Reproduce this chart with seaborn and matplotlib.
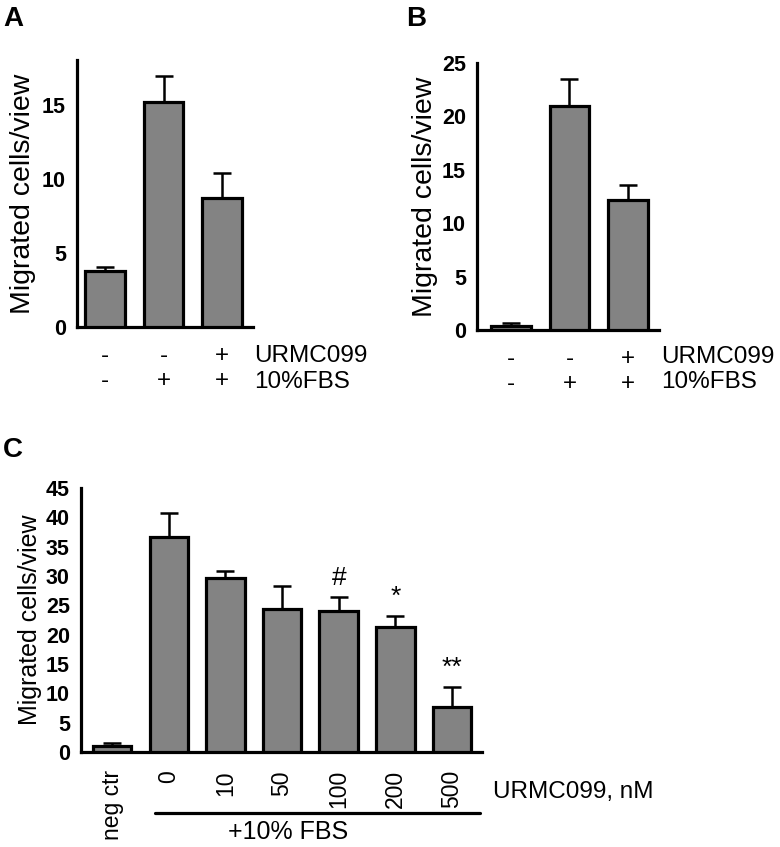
import numpy as np
import pandas as pd
import matplotlib
matplotlib.use("Agg")
import matplotlib.pyplot as plt
import matplotlib.transforms as mtransforms
import seaborn as sns

sns.set_style("white")
plt.rcParams['font.family'] = ['Liberation Sans', 'DejaVu Sans']
plt.rcParams['text.color'] = 'black'
plt.rcParams['axes.labelcolor'] = 'black'
plt.rcParams['xtick.color'] = 'black'
plt.rcParams['ytick.color'] = 'black'

# Panel A
a_groups = ["g1", "g2", "g3"]
a_mean = [3.8, 15.2, 8.7]
a_err = [0.25, 1.7, 1.7]
a_urmc = ["-", "-", "+"]
a_fbs = ["-", "+", "+"]

# Panel B
b_groups = ["g1", "g2", "g3"]
b_mean = [0.38, 21.0, 12.2]
b_err = [0.27, 2.5, 1.4]
b_urmc = ["-", "-", "+"]
b_fbs = ["-", "+", "+"]

# Panel C
c_labels = ["neg ctr", "0", "10", "50", "100", "200", "500"]
c_mean = [1.0, 36.6, 29.6, 24.4, 24.0, 21.3, 7.7]
c_err = [0.6, 4.1, 1.3, 3.9, 2.4, 1.9, 3.4]
c_marks = ["", "", "", "", "#", "*", "**"]

BAR = "#838383"
LW = 2.3


def bars(ax, groups, mean, err, ylim, yticks):
    df = pd.DataFrame({"grp": groups, "val": mean})
    sns.barplot(data=df, x="grp", y="val", color=BAR, saturation=1,
                edgecolor="black", linewidth=LW, width=0.68,
                errorbar=None, ax=ax, zorder=3)
    x = np.arange(len(mean))
    ax.errorbar(x, mean, yerr=[np.zeros(len(err)), err], fmt="none",
                ecolor="black", elinewidth=1.8, capsize=6.5, capthick=1.8,
                zorder=2)
    ax.set_ylim(*ylim)
    ax.set_yticks(yticks)
    ax.set_yticklabels([str(t) for t in yticks], fontweight="bold", fontsize=15.5)
    ax.set_xlabel("")
    sns.despine(ax=ax)
    for s in ["left", "bottom"]:
        ax.spines[s].set_linewidth(LW)
        ax.spines[s].set_color("black")
    ax.tick_params(axis="both", direction="out", length=7, width=LW,
                   color="black", labelcolor="black")
    ax.tick_params(axis="y", pad=1)


fig = plt.figure(figsize=(7.8, 8.47), dpi=100)

# A
axA = fig.add_axes([0.0987, 0.614, 0.2257, 0.315])
bars(axA, a_groups, a_mean, a_err, (0, 18), [0, 5, 10, 15])
axA.set_xlim(-0.48, 2.53)
axA.set_xticks(range(3))
axA.set_xticklabels([f"{u}\n{f}" for u, f in zip(a_urmc, a_fbs)],
                    fontsize=17.5, linespacing=1.15)
axA.tick_params(axis="x", pad=6)
axA.set_ylabel("Migrated cells/view", fontsize=20.5, labelpad=4)
trA = mtransforms.blended_transform_factory(axA.transData, axA.transAxes)
axA.text(2.55, -0.11, "URMC099", transform=trA, fontsize=17.5, va="center", ha="left")
axA.text(2.55, -0.205, "10%FBS", transform=trA, fontsize=17.5, va="center", ha="left")

# B
axB = fig.add_axes([0.6115, 0.6104, 0.2335, 0.3152])
bars(axB, b_groups, b_mean, b_err, (0, 25), [0, 5, 10, 15, 20, 25])
axB.set_xlim(-0.58, 2.53)
axB.set_xticks(range(3))
axB.set_xticklabels([f"{u}\n{f}" for u, f in zip(b_urmc, b_fbs)],
                    fontsize=17.5, linespacing=1.15)
axB.tick_params(axis="x", pad=6)
axB.set_ylabel("Migrated cells/view", fontsize=20.5, labelpad=3)
trB = mtransforms.blended_transform_factory(axB.transData, axB.transAxes)
axB.text(2.57, -0.10, "URMC099", transform=trB, fontsize=17.5, va="center", ha="left")
axB.text(2.57, -0.195, "10%FBS", transform=trB, fontsize=17.5, va="center", ha="left")

# C
axC = fig.add_axes([0.1038, 0.1122, 0.5142, 0.3117])
bars(axC, c_labels, c_mean, c_err, (0, 45), list(range(0, 50, 5)))
axC.set_xlim(-0.55, 6.53)
axC.set_xticks(range(len(c_labels)))
axC.set_xticklabels(c_labels, rotation=90, fontsize=16.5, va="top")
axC.tick_params(axis="x", pad=6)
axC.set_ylabel("Migrated cells/view", fontsize=18, labelpad=3)
for i, m in enumerate(c_marks):
    if m:
        axC.text(i, c_mean[i] + c_err[i] + 1.2, m, ha="center", va="bottom",
                 fontsize=19)
trC = mtransforms.blended_transform_factory(axC.transData, axC.transAxes)
axC.plot([0.76, 6.49], [-0.231, -0.231], color="black", lw=LW,
         transform=trC, clip_on=False)
axC.text(3.1, -0.305, "+10% FBS", transform=trC, fontsize=18, ha="center", va="center")
axC.text(6.72, -0.153, "URMC099, nM", transform=trC, fontsize=17.5, ha="left", va="center")

# panel letters
fig.text(0.004, 0.977, "A", fontsize=20, fontweight="bold", va="center")
fig.text(0.521, 0.977, "B", fontsize=20, fontweight="bold", va="center")
fig.text(0.004, 0.469, "C", fontsize=20, fontweight="bold", va="center")

fig.savefig("out.png", dpi=100)
